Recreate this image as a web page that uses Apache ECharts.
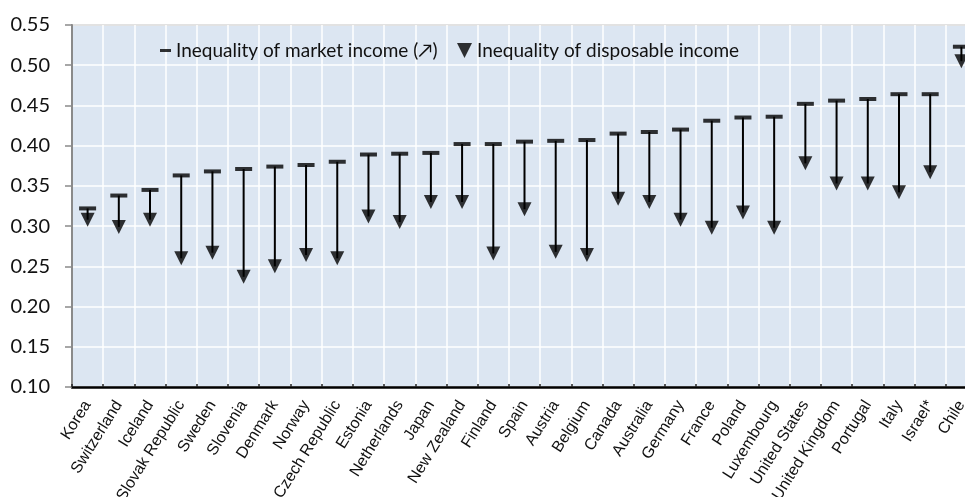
<!DOCTYPE html>
<html>
<head>
<meta charset="utf-8">
<script src="https://cdn.jsdelivr.net/npm/echarts@6/dist/echarts.min.js"></script>
<style>
  html, body { margin: 0; padding: 0; background: #ffffff; }
  #chart { width: 965px; height: 497px; }
</style>
</head>
<body>
<div id="chart"></div>
<script>
// countries sorted by market income inequality
const countries = ['Korea', 'Switzerland', 'Iceland', 'Slovak Republic', 'Sweden', 'Slovenia', 'Denmark', 'Norway',
  'Czech Republic', 'Estonia', 'Netherlands', 'Japan', 'New Zealand', 'Finland', 'Spain', 'Austria', 'Belgium',
  'Canada', 'Australia', 'Germany', 'France', 'Poland', 'Luxembourg', 'United States', 'United Kingdom',
  'Portugal', 'Italy', 'Israel*', 'Chile']
const marketIncome = [0.322, 0.338, 0.345, 0.363, 0.368, 0.371, 0.374, 0.376, 0.380, 0.389, 0.390, 0.391, 0.402,
  0.402, 0.405, 0.406, 0.407, 0.415, 0.417, 0.420, 0.431, 0.435, 0.436, 0.452, 0.456, 0.458, 0.464, 0.464, 0.523]
const disposableIncome = [0.308, 0.299, 0.308, 0.260, 0.267, 0.237, 0.250, 0.264, 0.260, 0.312, 0.305, 0.330, 0.330,
  0.266, 0.321, 0.268, 0.264, 0.334, 0.330, 0.308, 0.298, 0.317, 0.298, 0.378, 0.353, 0.353, 0.342, 0.367, 0.505]
const yTicks = [0.10, 0.15, 0.20, 0.25, 0.30, 0.35, 0.40, 0.45, 0.50, 0.55]

const MARKET = 'Inequality of market income (\u2197)'
const DISPOSABLE = 'Inequality of disposable income'
const triangleDown = 'path://M0,0 L14,0 L7,14 Z'

const chart = echarts.init(document.getElementById('chart'))

const stemData = countries.map((c, i) => [i, marketIncome[i], disposableIncome[i]])

chart.setOption({
  animation: false,
  grid: {
    left: 72,
    top: 25,
    right: -12,
    bottom: 110,
    outerBoundsMode: 'none',
    show: true,
    backgroundColor: '#dce6f2',
    borderColor: '#8a8a8a',
    borderWidth: 2,
  },
  legend: [
    {
      data: [{ name: MARKET, icon: 'rect' }],
      left: 160,
      top: 41,
      padding: 0,
      itemWidth: 11,
      itemHeight: 3,
      textStyle: { fontFamily: 'Lato', fontSize: 19, color: '#111111' },
    },
    {
      data: [{ name: DISPOSABLE, icon: triangleDown }],
      left: 457,
      top: 41,
      padding: 0,
      itemWidth: 15,
      itemHeight: 15,
      textStyle: { fontFamily: 'Lato', fontSize: 19, color: '#111111' },
    },
  ],
  xAxis: {
    type: 'category',
    data: countries,
    boundaryGap: true,
    axisLine: { lineStyle: { color: '#000000', width: 2.5 } },
    axisTick: { show: true, inside: true, length: 3, lineStyle: { color: '#222222', width: 1.5 } },
    axisLabel: {
      rotate: 58,
      margin: 15,
      interval: 0,
      fontFamily: 'Liberation Sans',
      fontSize: 16,
      color: '#111111',
    },
    splitLine: { show: true, interval: 0, lineStyle: { color: '#ffffff', width: 1.5 } },
  },
  yAxis: {
    type: 'value',
    min: 0.10,
    max: 0.55,
    interval: 0.05,
    axisLine: { show: true, lineStyle: { color: '#8a8a8a', width: 2 } },
    axisTick: { show: true, length: 7, lineStyle: { color: '#8a8a8a', width: 1.5 } },
    axisLabel: {
      margin: 22,
      fontFamily: 'Lato',
      fontSize: 20,
      color: '#111111',
      formatter: (v) => {
        const t = yTicks.find((x) => Math.abs(x - v) < 1e-6)
        return (t !== undefined ? t : v).toFixed(2)
      },
    },
    splitLine: { show: true, lineStyle: { color: '#ffffff', width: 1.5 } },
  },
  series: [
    {
      type: 'custom',
      name: 'stem',
      data: stemData,
      encode: { x: 0, y: [1, 2] },
      z: 1,
      silent: true,
      renderItem: (params, api) => {
        const top = api.coord([api.value(0), api.value(1)])
        const bottom = api.coord([api.value(0), api.value(2)])
        return {
          type: 'line',
          shape: { x1: top[0], y1: top[1], x2: bottom[0], y2: bottom[1] },
          style: { stroke: '#000000', lineWidth: 2 },
        }
      },
    },
    {
      type: 'scatter',
      name: MARKET,
      data: marketIncome,
      symbol: 'rect',
      symbolSize: [17, 4],
      itemStyle: { color: '#000000' },
      z: 3,
    },
    {
      type: 'scatter',
      name: DISPOSABLE,
      data: disposableIncome,
      symbol: triangleDown,
      symbolSize: [14, 14],
      itemStyle: { color: '#000000' },
      z: 3,
    },
  ],
})
</script>
</body>
</html>
